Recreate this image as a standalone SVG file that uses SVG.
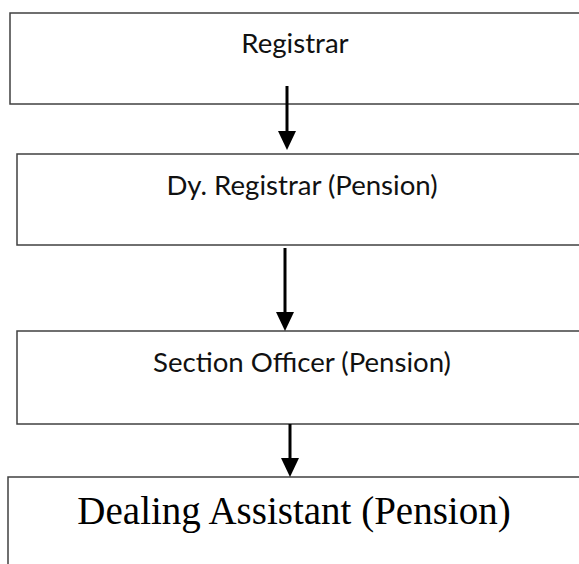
<svg xmlns="http://www.w3.org/2000/svg" width="579" height="564" viewBox="0 0 579 564">
  <style>
    .box { fill: #ffffff; stroke: #404040; stroke-width: 1.5; }
    .sans { font-family: Lato, "Open Sans", "Liberation Sans", sans-serif; font-size: 27.6px; fill: #111111; text-anchor: middle; }
    .serif { font-family: "Liberation Serif", "Times New Roman", serif; font-size: 39px; fill: #000000; text-anchor: middle; }
    .link { stroke: #000000; stroke-width: 3; fill: none; }
    .head { fill: #000000; }
  </style>
  <rect width="579" height="564" fill="#ffffff"/>

  <g id="registrar">
    <rect class="box" x="10" y="13" width="600" height="91"/>
    <text class="sans" x="295" y="53">Registrar</text>
  </g>

  <g id="dy-registrar">
    <rect class="box" x="17" y="154" width="600" height="91"/>
    <text class="sans" x="302" y="195">Dy. Registrar (Pension)</text>
  </g>

  <g id="section-officer">
    <rect class="box" x="17" y="331" width="600" height="93"/>
    <text class="sans" x="302" y="372">Section Officer (Pension)</text>
  </g>

  <g id="dealing-assistant">
    <rect class="box" x="8" y="477" width="600" height="110"/>
    <text class="serif" x="294" y="524">Dealing Assistant (Pension)</text>
  </g>

  <g id="connectors">
    <line class="link" x1="287" y1="86" x2="287" y2="132"/>
    <polygon class="head" points="278,131 296,131 287,150"/>
    <line class="link" x1="285" y1="248" x2="285" y2="313"/>
    <polygon class="head" points="276,312 294,312 285,331"/>
    <line class="link" x1="290" y1="424" x2="290" y2="459"/>
    <polygon class="head" points="281,458 299,458 290,477"/>
  </g>
</svg>
